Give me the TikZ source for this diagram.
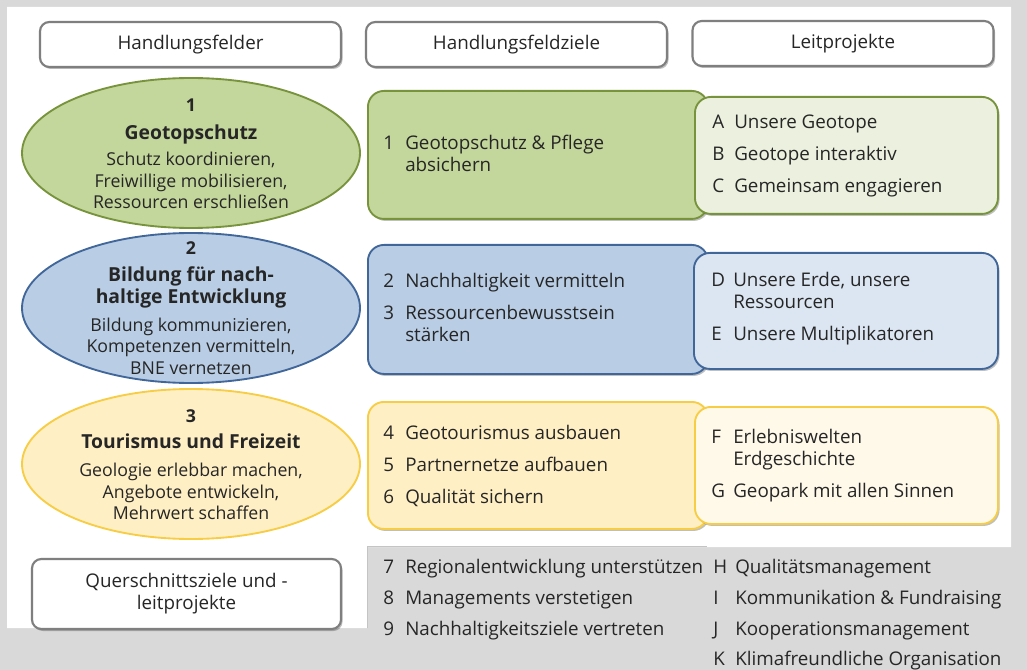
\documentclass[tikz,border=0pt]{standalone}
\usepackage{fontspec}
\setmainfont{Open Sans}
\usetikzlibrary{shapes.geometric,shadows}
\definecolor{bggray}{HTML}{D9D9D9}
\definecolor{txt}{HTML}{262626}
\definecolor{hdrline}{HTML}{7F7F7F}
\definecolor{grnfill}{HTML}{C3D69B}
\definecolor{grnline}{HTML}{77933C}
\definecolor{grnlight}{HTML}{EBF1DE}
\definecolor{blufill}{HTML}{B9CDE5}
\definecolor{bluline}{HTML}{41679A}
\definecolor{blulight}{HTML}{DCE6F2}
\definecolor{yelfill}{HTML}{FFEFC4}
\definecolor{yelline}{HTML}{F7CD45}
\definecolor{yellight}{HTML}{FFF9EA}
\definecolor{boxedge}{HTML}{C4C4C4}
\newcommand\pxu{0.75pt}
\newcommand\hdline[1]{{\fontsize{14.5}{16.5}\selectfont\bfseries #1}}
\begin{document}
\begin{tikzpicture}[x=0.75pt,y=-0.75pt,
  every node/.style={text=txt,font=\fontsize{14.1}{16.5}\selectfont},
  shad/.style={drop shadow={shadow xshift=1.2pt,shadow yshift=-1.5pt,fill=black,opacity=0.25}},
  hdr/.style={draw=hdrline,line width=1.6pt,fill=white,rounded corners=7pt,
    minimum width=301*\pxu,minimum height=45*\pxu,inner sep=0pt,align=center,shad},
  ell/.style={ellipse,line width=1.4pt,minimum width=338*\pxu,minimum height=150*\pxu,inner sep=0pt},
  elltext/.style={align=center,inner sep=0pt,font=\fontsize{13.3}{16.2}\selectfont},
  goalbox/.style={rounded corners=12pt,line width=1.4pt,anchor=north west,inner sep=0pt,shad},
  list/.style={anchor=west,inner sep=0pt},
]
\useasboundingbox (0,0) rectangle (1027,670);
\fill[bggray] (0,0) rectangle (1027,670);
\fill[white] (7,7) -- (1011,7) -- (1011,547) -- (367,547) -- (367,628) -- (7,628) -- cycle;
\draw[boxedge,line width=1pt] (367.5,628) -- (367.5,546.5) -- (707,546.5);

% headers
\node[hdr] (h1) at (190.5,44.5) {Handlungsfelder};
\node[hdr] (h2) at (516.5,44.5) {Handlungsfeldziele};
\node[hdr] (h3) at (843,43.5) {Leitprojekte};

% ellipses
\node[ell,fill=grnfill,draw=grnline] (e1) at (191,153) {};
\node[elltext] (t1) at (191,154) {\textbf{1}\\[4.8pt]\hdline{Geotopschutz}\\[3.3pt]Schutz koordinieren,\\Freiwillige mobilisieren,\\Ressourcen erschließen};
\node[ell,fill=blufill,draw=bluline] (e2) at (191,308) {};
\node[elltext] (t2) at (191,308) {\textbf{2}\\[4pt]\hdline{Bildung für nach-}\\\hdline{haltige Entwicklung}\\[4.8pt]Bildung kommunizieren,\\Kompetenzen vermitteln,\\BNE vernetzen};
\node[ell,fill=yelfill,draw=yelline] (e3) at (191,464) {};
\node[elltext] (t3) at (191,465) {\textbf{3}\\[3.3pt]\hdline{Tourismus und Freizeit}\\[4.8pt]Geologie erlebbar machen,\\Angebote entwickeln,\\Mehrwert schaffen};

% goal boxes
\node[goalbox,fill=grnfill,draw=grnline,minimum width=340*\pxu,minimum height=128*\pxu] (g1) at (367,90) {};
\node[goalbox,fill=grnlight,draw=grnline,minimum width=303*\pxu,minimum height=117*\pxu] (p1) at (694,96) {};
\node[goalbox,fill=blufill,draw=bluline,minimum width=340*\pxu,minimum height=129*\pxu] (g2) at (367,244) {};
\node[goalbox,fill=blulight,draw=bluline,minimum width=304*\pxu,minimum height=116*\pxu] (p2) at (693,252) {};
\node[goalbox,fill=yelfill,draw=yelline,minimum width=340*\pxu,minimum height=127*\pxu] (g3) at (367,401) {};
\node[goalbox,fill=yellight,draw=yelline,minimum width=303*\pxu,minimum height=117*\pxu] (p3) at (694,406) {};

% lists
\node[list] (l1) at (383,156) {\begin{tabular}{@{}p{16.5pt}@{}l@{}}1&Geotopschutz \& Pflege\\&absichern\end{tabular}};
\node[list] (l2) at (383,310.5) {\begin{tabular}{@{}p{16.5pt}@{}l@{}}2&Nachhaltigkeit vermitteln\\[7.5pt]3&Ressourcenbewusstsein\\&stärken\end{tabular}};
\node[list] (l3) at (383,467) {\begin{tabular}{@{}p{16.5pt}@{}l@{}}4&Geotourismus ausbauen\\[7.5pt]5&Partnernetze aufbauen\\[7.5pt]6&Qualität sichern\end{tabular}};
\node[list] (m1) at (712,156) {\begin{tabular}{@{}p{16.5pt}@{}l@{}}A&Unsere Geotope\\[7.5pt]B&Geotope interaktiv\\[7.5pt]C&Gemeinsam engagieren\end{tabular}};
\node[list] (m2) at (711,309) {\begin{tabular}{@{}p{16.5pt}@{}l@{}}D&Unsere Erde, unsere\\&Ressourcen\\[7.5pt]E&Unsere Multiplikatoren\end{tabular}};
\node[list] (m3) at (711,466) {\begin{tabular}{@{}p{16.5pt}@{}l@{}}F&Erlebniswelten\\&Erdgeschichte\\[7.5pt]G&Geopark mit allen Sinnen\end{tabular}};

% cross-cutting
\node[hdr,minimum width=309*\pxu,minimum height=70*\pxu] (q) at (186.5,594) {Querschnittsziele und -\\leitprojekte};
\node[list,anchor=north west] (bl) at (383,558) {\begin{tabular}{@{}p{16.5pt}@{}l@{}}7&Regionalentwicklung unterstützen\\[6.5pt]8&Managements verstetigen\\[6.5pt]9&Nachhaltigkeitsziele vertreten\end{tabular}};
\node[list,anchor=north west] (br) at (713,558) {\begin{tabular}{@{}p{16.5pt}@{}l@{}}H&Qualitätsmanagement\\[6.5pt]I&Kommunikation \& Fundraising\\[6.5pt]J&Kooperationsmanagement\\[6.5pt]K&Klimafreundliche Organisation\end{tabular}};
\end{tikzpicture}
\end{document}
